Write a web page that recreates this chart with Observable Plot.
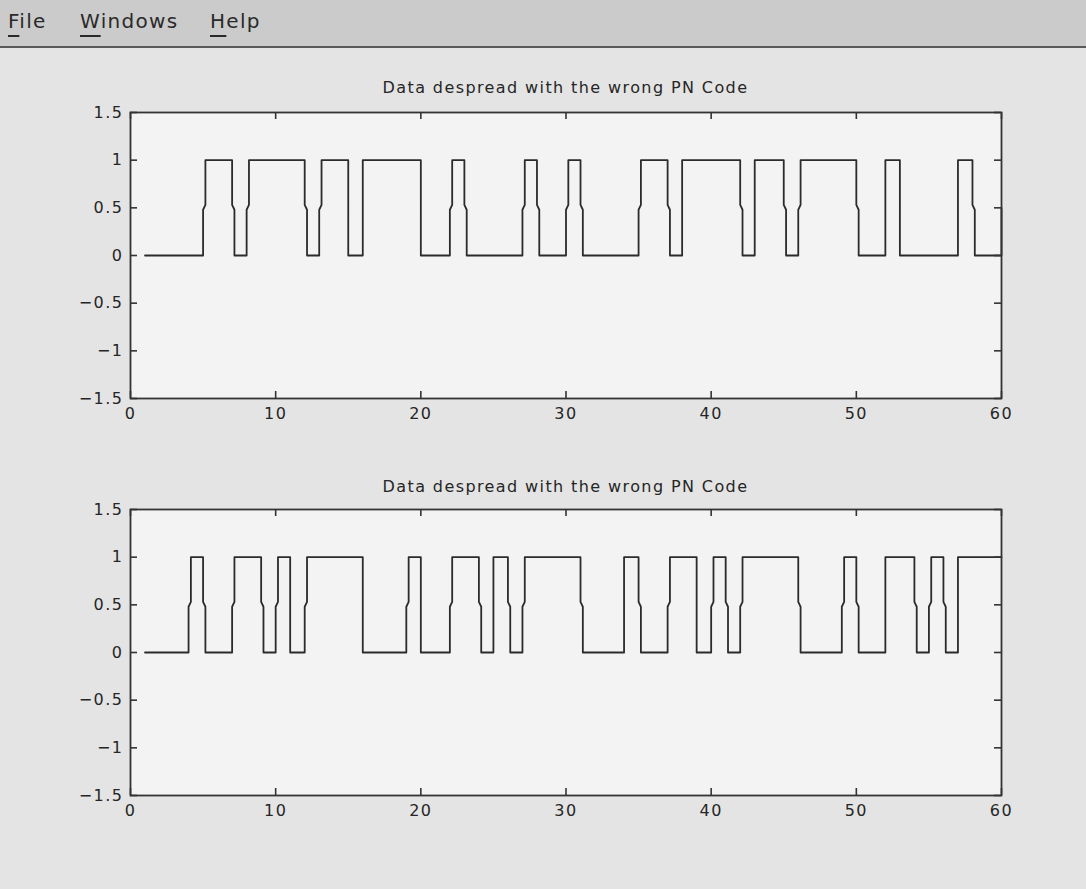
<!DOCTYPE html>
<html>
<head>
<meta charset="utf-8">
<script src="https://cdn.jsdelivr.net/npm/d3@7"></script>
<script src="https://cdn.jsdelivr.net/npm/@observablehq/plot@0.6"></script>
<style>
  html, body { margin: 0; padding: 0; }
  body { width: 1086px; height: 889px; background: #e4e4e4; position: relative; overflow: hidden; font-family: "DejaVu Sans", sans-serif; color: #262626; }
  #menu { position: absolute; left: 0; top: 0; width: 1086px; height: 46px; background: #cbcbcb; border-bottom: 2px solid #5a5a5a; }
  #menu span.item { position: absolute; top: 8px; font-size: 20px; letter-spacing: 1.3px; line-height: 26px; color: #2a2a2a; }
  #menu span.u { text-decoration: underline; text-decoration-thickness: 2px; text-underline-offset: 7px; }
  .title { position: absolute; left: 130px; width: 871px; text-align: center; font-size: 16px; line-height: 20px; letter-spacing: 1.4px; color: #262626; }
  .chart { position: absolute; left: 0; }
  .chart svg text { letter-spacing: 1.5px; }
</style>
</head>
<body>
<div id="menu">
  <span class="item" style="left:8px"><span class="u">F</span>ile</span>
  <span class="item" style="left:80px"><span class="u">W</span>indows</span>
  <span class="item" style="left:210px"><span class="u">H</span>elp</span>
</div>
<div class="title" id="t1" style="top:78px"></div>
<div class="chart" id="c1" style="top:102px"></div>
<div class="title" id="t2" style="top:477px"></div>
<div class="chart" id="c2" style="top:499px"></div>
<script>
// ---- data ----
const titles = ["Data despread with the wrong PN Code", "Data despread with the wrong PN Code"];
const xTicks = [0, 10, 20, 30, 40, 50, 60];
const yTicks = [-1.5, -1, -0.5, 0, 0.5, 1, 1.5];

// top plot: level starts at each edge; kink = 1 when a half-level (0.5) sample appears at that transition
const topEdges  = [1, 5, 7, 8, 12, 13, 15, 16, 20, 22, 23, 27, 28, 30, 31, 35, 37, 38, 42, 43, 45, 46, 50, 52, 53, 57, 58, 60];
const topLevels = [0, 1, 0, 1, 0,  1,  0,  1,  0,  1,  0,  1,  0,  1,  0,  1,  0,  1,  0,  1,  0,  1,  0,  1,  0,  1,  0, 0.5];
const topKinks  = [0, 1, 1, 1, 1,  1,  0,  0,  0,  1,  1,  1,  1,  1,  1,  1,  1,  0,  1,  0,  1,  1,  1,  0,  0,  0,  1, 0];
const topEnd = 60;

// bottom plot
const botEdges  = [1, 4, 5, 7, 9, 10, 11, 12, 16, 19, 20, 22, 24, 25, 26, 27, 31, 34, 35, 37, 39, 40, 41, 42, 46, 49, 50, 52, 54, 55, 56, 57];
const botLevels = [0, 1, 0, 1, 0, 1,  0,  1,  0,  1,  0,  1,  0,  1,  0,  1,  0,  1,  0,  1,  0,  1,  0,  1,  0,  1,  0,  1,  0,  1,  0,  1];
const botKinks  = [0, 1, 1, 1, 1, 1,  0,  1,  0,  1,  0,  1,  1,  0,  1,  1,  1,  0,  1,  1,  0,  1,  1,  1,  1,  1,  1,  0,  1,  1,  1,  0];
const botEnd = 60;

// ---- build line points from the data ----
const KINK = 0.16;
function buildSignal(edges, levels, kinks, end) {
  const pts = [{x: edges[0], y: levels[0]}];
  for (let i = 1; i < edges.length; i++) {
    const T = edges[i], prev = levels[i - 1], next = levels[i];
    pts.push({x: T, y: prev});
    if (kinks[i]) {
      const up = next > prev;
      pts.push({x: T, y: up ? 0.48 : 0.53});
      pts.push({x: T + KINK, y: up ? 0.53 : 0.48});
      pts.push({x: T + KINK, y: next});
    } else {
      pts.push({x: T, y: next});
    }
  }
  const last = edges[edges.length - 1];
  if (last < end) pts.push({x: end, y: levels[levels.length - 1]});
  return pts;
}

const W = 1086, ML = 130, MR = 85, MT = 10, MB = 40, PH = 286;
const PW = W - ML - MR;
const TICK = 7;
const fmt = d3.format("~g");

function makeChart(points) {
  return Plot.plot({
    width: W,
    height: PH + MT + MB,
    marginLeft: ML, marginRight: MR, marginTop: MT, marginBottom: MB,
    style: {fontFamily: "DejaVu Sans, sans-serif", fontSize: "16px", background: "transparent", color: "#262626"},
    x: {domain: [0, 60], label: null},
    y: {domain: [-1.5, 1.5], label: null},
    marks: [
      Plot.frame({fill: "#f3f3f3", stroke: null}),
      Plot.line(points, {x: "x", y: "y", stroke: "#2b2b2b", strokeWidth: 1.8}),
      Plot.tickY(yTicks, {y: d => d, stroke: "#333", strokeWidth: 1.6, insetRight: PW - TICK}),
      Plot.tickY(yTicks, {y: d => d, stroke: "#333", strokeWidth: 1.6, insetLeft: PW - TICK}),
      Plot.tickX(xTicks, {x: d => d, stroke: "#333", strokeWidth: 1.6, insetTop: PH - TICK}),
      Plot.tickX(xTicks, {x: d => d, stroke: "#333", strokeWidth: 1.6, insetBottom: PH - TICK}),
      Plot.frame({stroke: "#333", strokeWidth: 1.8}),
      Plot.axisY(yTicks, {tickSize: 0, tickPadding: 7, fontSize: 16, fill: "#262626", tickFormat: fmt, label: null}),
      Plot.axisX(xTicks, {tickSize: 0, tickPadding: 9, fontSize: 16, fill: "#262626", tickFormat: fmt, label: null})
    ]
  });
}

document.getElementById("t1").textContent = titles[0];
document.getElementById("t2").textContent = titles[1];
document.getElementById("c1").append(makeChart(buildSignal(topEdges, topLevels, topKinks, topEnd)));
document.getElementById("c2").append(makeChart(buildSignal(botEdges, botLevels, botKinks, botEnd)));
</script>
</body>
</html>
